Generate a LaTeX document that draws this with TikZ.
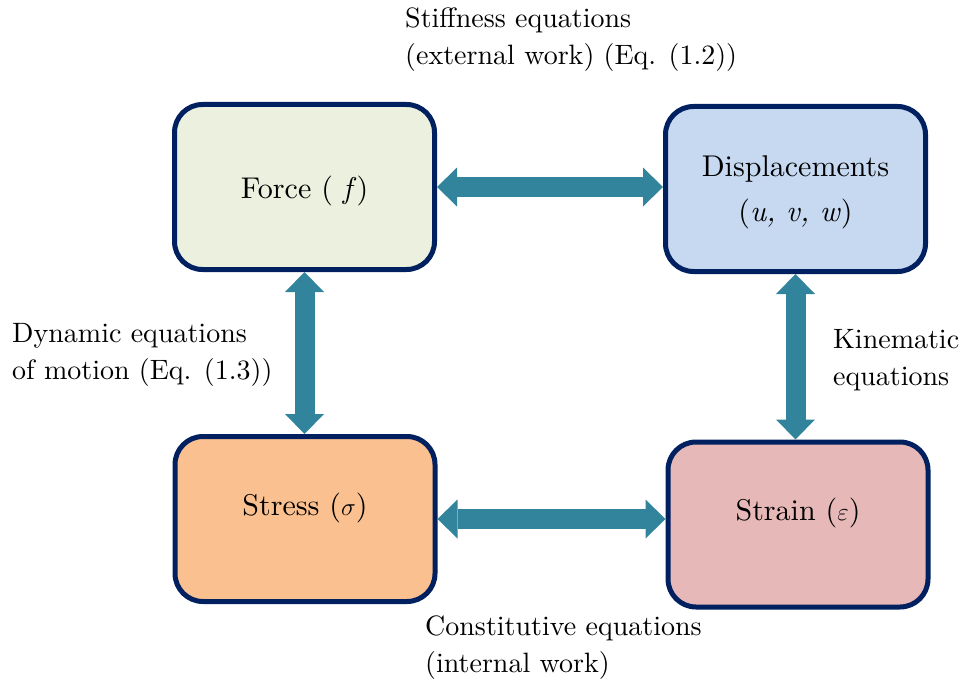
\documentclass[tikz,border=0pt]{standalone}
\usepackage{fontspec}
\setmainfont{lmroman10-regular.otf}[ItalicFont=lmroman10-italic.otf, BoldFont=lmroman10-bold.otf]
\usetikzlibrary{arrows.meta}
\definecolor{navy}{HTML}{002060}
\definecolor{arrowteal}{HTML}{31849B}
\definecolor{forcefill}{HTML}{EBF1DE}
\definecolor{dispfill}{HTML}{C6D9F1}
\definecolor{stressfill}{HTML}{FAC090}
\definecolor{strainfill}{HTML}{E6B9B8}
\newcommand{\vshift}[2]{\raisebox{#1}[\height][\depth]{#2}}
\begin{document}
\begin{tikzpicture}[x=1pt,y=-1pt,
  every node/.style={font=\fontsize{28}{37}\selectfont},
  box/.style={draw=navy, line width=5pt, rounded corners=28pt,
    minimum width=260pt, minimum height=165pt, inner sep=0pt,
    font=\fontsize{30}{37}\selectfont},
  lbl/.style={anchor=base west, inner sep=0pt},
  dbl/.style={draw=arrowteal, line width=20pt,
    {Triangle[length=20pt 0 0, width=39pt 0 0, line width=0pt 0 0]}-{Triangle[length=20pt 0 0, width=39pt 0 0, line width=0pt 0 0]}}]
\useasboundingbox (0,0) rectangle (971,682);

\node[box, fill=forcefill] (force) at (304.5,187) {\vshift{-4pt}{Force ( \textit{f})}};
\node[box, fill=dispfill] (disp) at (795.5,189) {\vshift{-3pt}{\begin{tabular}{@{}c@{}}Displacements\\[8pt](\textit{u, v, w})\end{tabular}}};
\node[box, fill=stressfill] (stress) at (305,519) {\vshift{11pt}{Stress ($\sigma$)}};
\node[box, fill=strainfill] (strain) at (798,524.5) {\vshift{11.5pt}{Strain ($\varepsilon$)}};

\draw[dbl] (force.east) -- (force.east -| disp.west);
\draw[dbl] (stress.east) -- (stress.east -| strain.west);
\draw[dbl] (force.south) -- (force.south |- stress.north);
\draw[dbl] (disp.south) -- (disp.south |- strain.north);

\node[lbl] (stiff) at (405,28) {\begin{tabular}[t]{@{}l@{}}Stiffness equations\\(external work) (Eq. (1.2))\end{tabular}};
\node[lbl] (dyn) at (12,342) {\begin{tabular}[t]{@{}l@{}}Dynamic equations\\of motion (Eq. (1.3))\end{tabular}};
\node[lbl] (kin) at (833,348) {\begin{tabular}[t]{@{}l@{}}Kinematic\\equations\end{tabular}};
\node[lbl] (const) at (425,635) {\begin{tabular}[t]{@{}l@{}}Constitutive equations\\(internal work)\end{tabular}};
\end{tikzpicture}
\end{document}
